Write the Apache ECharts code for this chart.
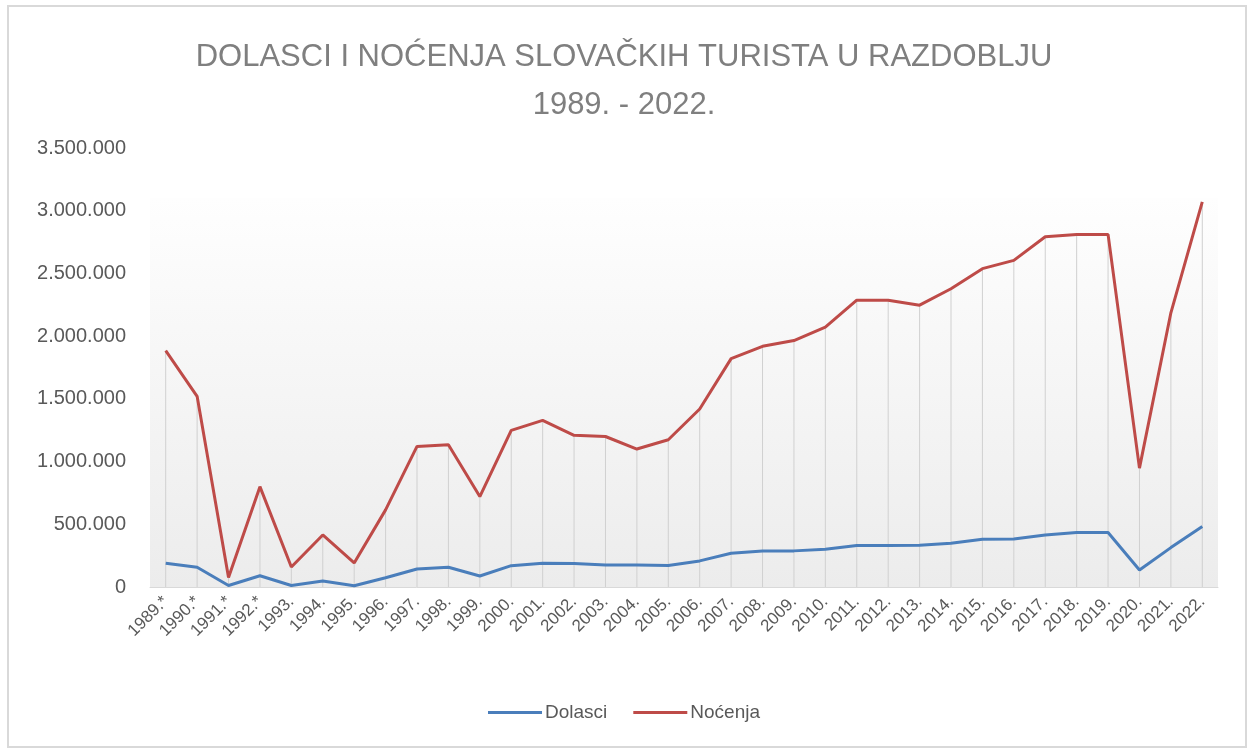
<!DOCTYPE html>
<html>
<head>
<meta charset="utf-8">
<script src="https://cdn.jsdelivr.net/npm/echarts@6/dist/echarts.min.js"></script>
<style>html,body{margin:0;padding:0;background:#fff;}#c{width:1248px;height:749px;}</style>
</head>
<body>
<div id="c"></div>
<script>
const titleLines = ['DOLASCI I NOĆENJA SLOVAČKIH TURISTA U RAZDOBLJU', '1989. - 2022.'];
const years = ['1989.*','1990.*','1991.*','1992.*','1993.','1994.','1995.','1996.','1997.','1998.','1999.','2000.','2001.','2002.','2003.','2004.','2005.','2006.','2007.','2008.','2009.','2010.','2011.','2012.','2013.','2014.','2015.','2016.','2017.','2018.','2019.','2020.','2021.','2022.'];
const dolasci = [189000,157000,12000,90000,12000,48000,10000,74000,144000,157000,88000,170000,189000,187000,175000,175000,172000,208000,269000,287000,288000,301000,330000,331000,333000,349000,381000,382000,415000,434000,435000,136000,314000,482000];
const nocenja = [1885000,1520000,75000,800000,160000,415000,192000,615000,1121000,1134000,721000,1249000,1328000,1209000,1200000,1100000,1174000,1419000,1821000,1919000,1965000,2071000,2287000,2286000,2247000,2378000,2538000,2604000,2793000,2811000,2811000,948000,2186000,3070000];
const yTicks = { min: 0, max: 3500000, interval: 500000 };
const seriesNames = ['Dolasci', 'Noćenja'];

const chart = echarts.init(document.getElementById('c'), null, {renderer: 'canvas'});
const fmt = v => String(v).replace(/\B(?=(\d{3})+(?!\d))/g, '.');
const font = 'Liberation Sans, Open Sans, sans-serif';

chart.setOption({
  animation: false,
  backgroundColor: '#fff',
  graphic: [
    { type: 'rect', shape: { x: 8, y: 6, width: 1238, height: 741 }, style: { fill: 'none', stroke: '#d9d9d9', lineWidth: 2 }, z: -10 },
    { type: 'rect', shape: { x: 150, y: 198, width: 1068, height: 389 },
      style: { fill: new echarts.graphic.LinearGradient(0, 0, 0, 1, [{offset: 0, color: '#fefefe'}, {offset: 1, color: '#ececec'}]) }, z: -5 }
  ],
  title: {
    text: titleLines.join('\n'),
    left: 'center',
    top: 28,
    textStyle: { fontFamily: 'Liberation Sans Narrow, Liberation Sans, sans-serif', fontSize: 31, fontWeight: 'normal', color: '#7f7f7f', lineHeight: 48 }
  },
  legend: {
    data: seriesNames,
    bottom: 22,
    left: 'center',
    itemWidth: 54,
    itemHeight: 3,
    itemGap: 26,
    icon: 'rect',
    textStyle: { fontFamily: font, fontSize: 19, color: '#595959', padding: [0, 0, 0, -2] }
  },
  grid: { left: 150, right: 30, top: 148, bottom: 162, containLabel: false },
  xAxis: {
    type: 'category',
    data: years,
    boundaryGap: true,
    axisLine: { show: true, lineStyle: { color: '#d9d9d9', width: 1 } },
    axisTick: { show: false },
    axisLabel: { rotate: 45, interval: 0, fontFamily: font, fontSize: 17, color: '#595959', margin: 12 },
    splitLine: { show: false }
  },
  yAxis: {
    type: 'value',
    min: yTicks.min, max: yTicks.max, interval: yTicks.interval,
    axisLine: { show: false },
    axisTick: { show: false },
    splitLine: { show: false },
    axisLabel: { formatter: fmt, fontFamily: font, fontSize: 20, color: '#595959', margin: 24 }
  },
  series: [
    { name: 'drop', type: 'bar', data: nocenja, barWidth: 1, itemStyle: { color: '#d0d0d0' }, silent: true, z: 1, legendHoverLink: false },
    { name: seriesNames[0], type: 'line', data: dolasci, symbol: 'none', lineStyle: { color: '#4a7ebb', width: 3 }, itemStyle: { color: '#4a7ebb' }, z: 3 },
    { name: seriesNames[1], type: 'line', data: nocenja, symbol: 'none', lineStyle: { color: '#be4b48', width: 3 }, itemStyle: { color: '#be4b48' }, z: 3 }
  ]
});
</script>
</body>
</html>
